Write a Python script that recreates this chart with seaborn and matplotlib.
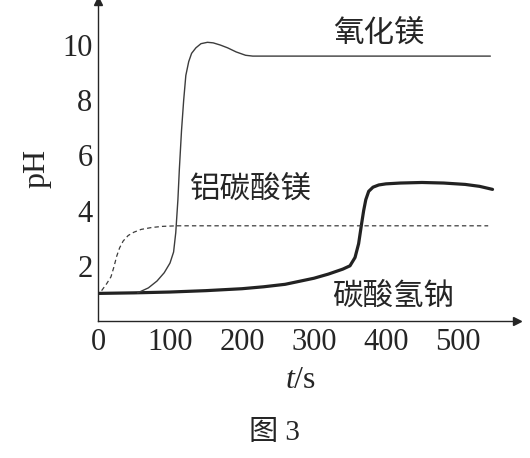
import numpy as np
import pandas as pd
import matplotlib
matplotlib.use("Agg")
import matplotlib.pyplot as plt
import seaborn as sns

## data (t in s, pH)
t_nahco3 = [0, 50, 100, 150, 200, 230, 260, 300, 320, 340, 350, 357, 362, 366, 369, 372, 376, 382, 390, 400, 420, 450, 480, 510, 530, 548]
ph_nahco3 = [1.0, 1.02, 1.05, 1.1, 1.17, 1.24, 1.33, 1.55, 1.7, 1.88, 2.0, 2.3, 2.8, 3.5, 4.0, 4.4, 4.7, 4.85, 4.93, 4.97, 5.0, 5.02, 5.0, 4.95, 4.88, 4.77]

t_mgo = [55, 70, 82, 92, 100, 105, 108, 111, 113, 116, 119, 122, 126, 130, 136, 143, 152, 160, 170, 180, 192, 205, 215, 300, 400, 545]
ph_mgo = [1.02, 1.2, 1.45, 1.75, 2.1, 2.5, 3.2, 4.4, 5.5, 6.9, 8.0, 8.9, 9.4, 9.7, 9.9, 10.05, 10.1, 10.08, 10.0, 9.9, 9.75, 9.63, 9.6, 9.6, 9.6, 9.6]

t_alc = [5, 12, 18, 22, 26, 30, 35, 42, 50, 60, 75, 90, 110, 150, 250, 400, 542]
ph_alc = [1.1, 1.35, 1.6, 1.95, 2.35, 2.65, 2.9, 3.1, 3.22, 3.32, 3.39, 3.43, 3.45, 3.45, 3.45, 3.45, 3.45]

x_ticks = [0, 100, 200, 300, 400, 500]
y_ticks = [2, 4, 6, 8, 10]

sns.set_theme(style="white")
plt.rcParams['font.family'] = ['Liberation Serif', 'Noto Sans CJK SC', 'DejaVu Sans']
plt.rcParams['mathtext.fontset'] = 'custom'
plt.rcParams['mathtext.rm'] = 'Liberation Serif'
plt.rcParams['mathtext.it'] = 'Liberation Serif:italic'

fig = plt.figure(figsize=(5.3, 4.58), dpi=100)
ax = fig.add_axes([98/530, 1-321/458, (517-98)/530, 321/458 - 0.002])

txt_c = '#252525'
sns.lineplot(x=t_nahco3, y=ph_nahco3, ax=ax, color='#222222', lw=2.3, estimator=None, sort=False)
sns.lineplot(x=t_mgo, y=ph_mgo, ax=ax, color='#3c3c3c', lw=1.0, estimator=None, sort=False)
sns.lineplot(x=t_alc, y=ph_alc, ax=ax, color='#3c3c3c', lw=0.9, estimator=None, sort=False,
             linestyle=(0, (3.5, 2.5)))

ax.set_xlim(0, 582)
ax.set_ylim(0, 11.6)
ax.set_xticks(x_ticks)
ax.set_yticks(y_ticks)
ax.tick_params(direction='in', length=6, width=1, colors=txt_c, labelsize=22)
ax.tick_params(axis='x', pad=5)
ax.tick_params(axis='y', pad=4)
for s in ['top', 'right']:
    ax.spines[s].set_visible(False)
for s in ['left', 'bottom']:
    ax.spines[s].set_color(txt_c)
    ax.spines[s].set_linewidth(1.0)

# axis arrows
ax.plot(1, 0, marker='>', color=txt_c, ms=6, transform=ax.transAxes, clip_on=False)
ax.plot(0, 1, marker='^', color=txt_c, ms=6, transform=ax.transAxes, clip_on=False)

ax.text(390, 10.4, '氧化镁', fontsize=22, color=txt_c, ha='center', va='center')
ax.text(212, 4.73, '铝碳酸镁', fontsize=22, color=txt_c, ha='center', va='center')
ax.text(410, 0.87, '碳酸氢钠', fontsize=22, color=txt_c, ha='center', va='center')

fig.text(37/530, 1-168/458, 'pH', rotation=90, fontsize=23, color=txt_c, ha='center', va='center')
fig.text(301/530, 1-380/458, r'$t$/s', fontsize=23, color=txt_c, ha='center', va='center')
fig.text(274/530, 1-433/458, '图 3', fontsize=21, color=txt_c, ha='center', va='center')

fig.savefig('out.png', dpi=100)
